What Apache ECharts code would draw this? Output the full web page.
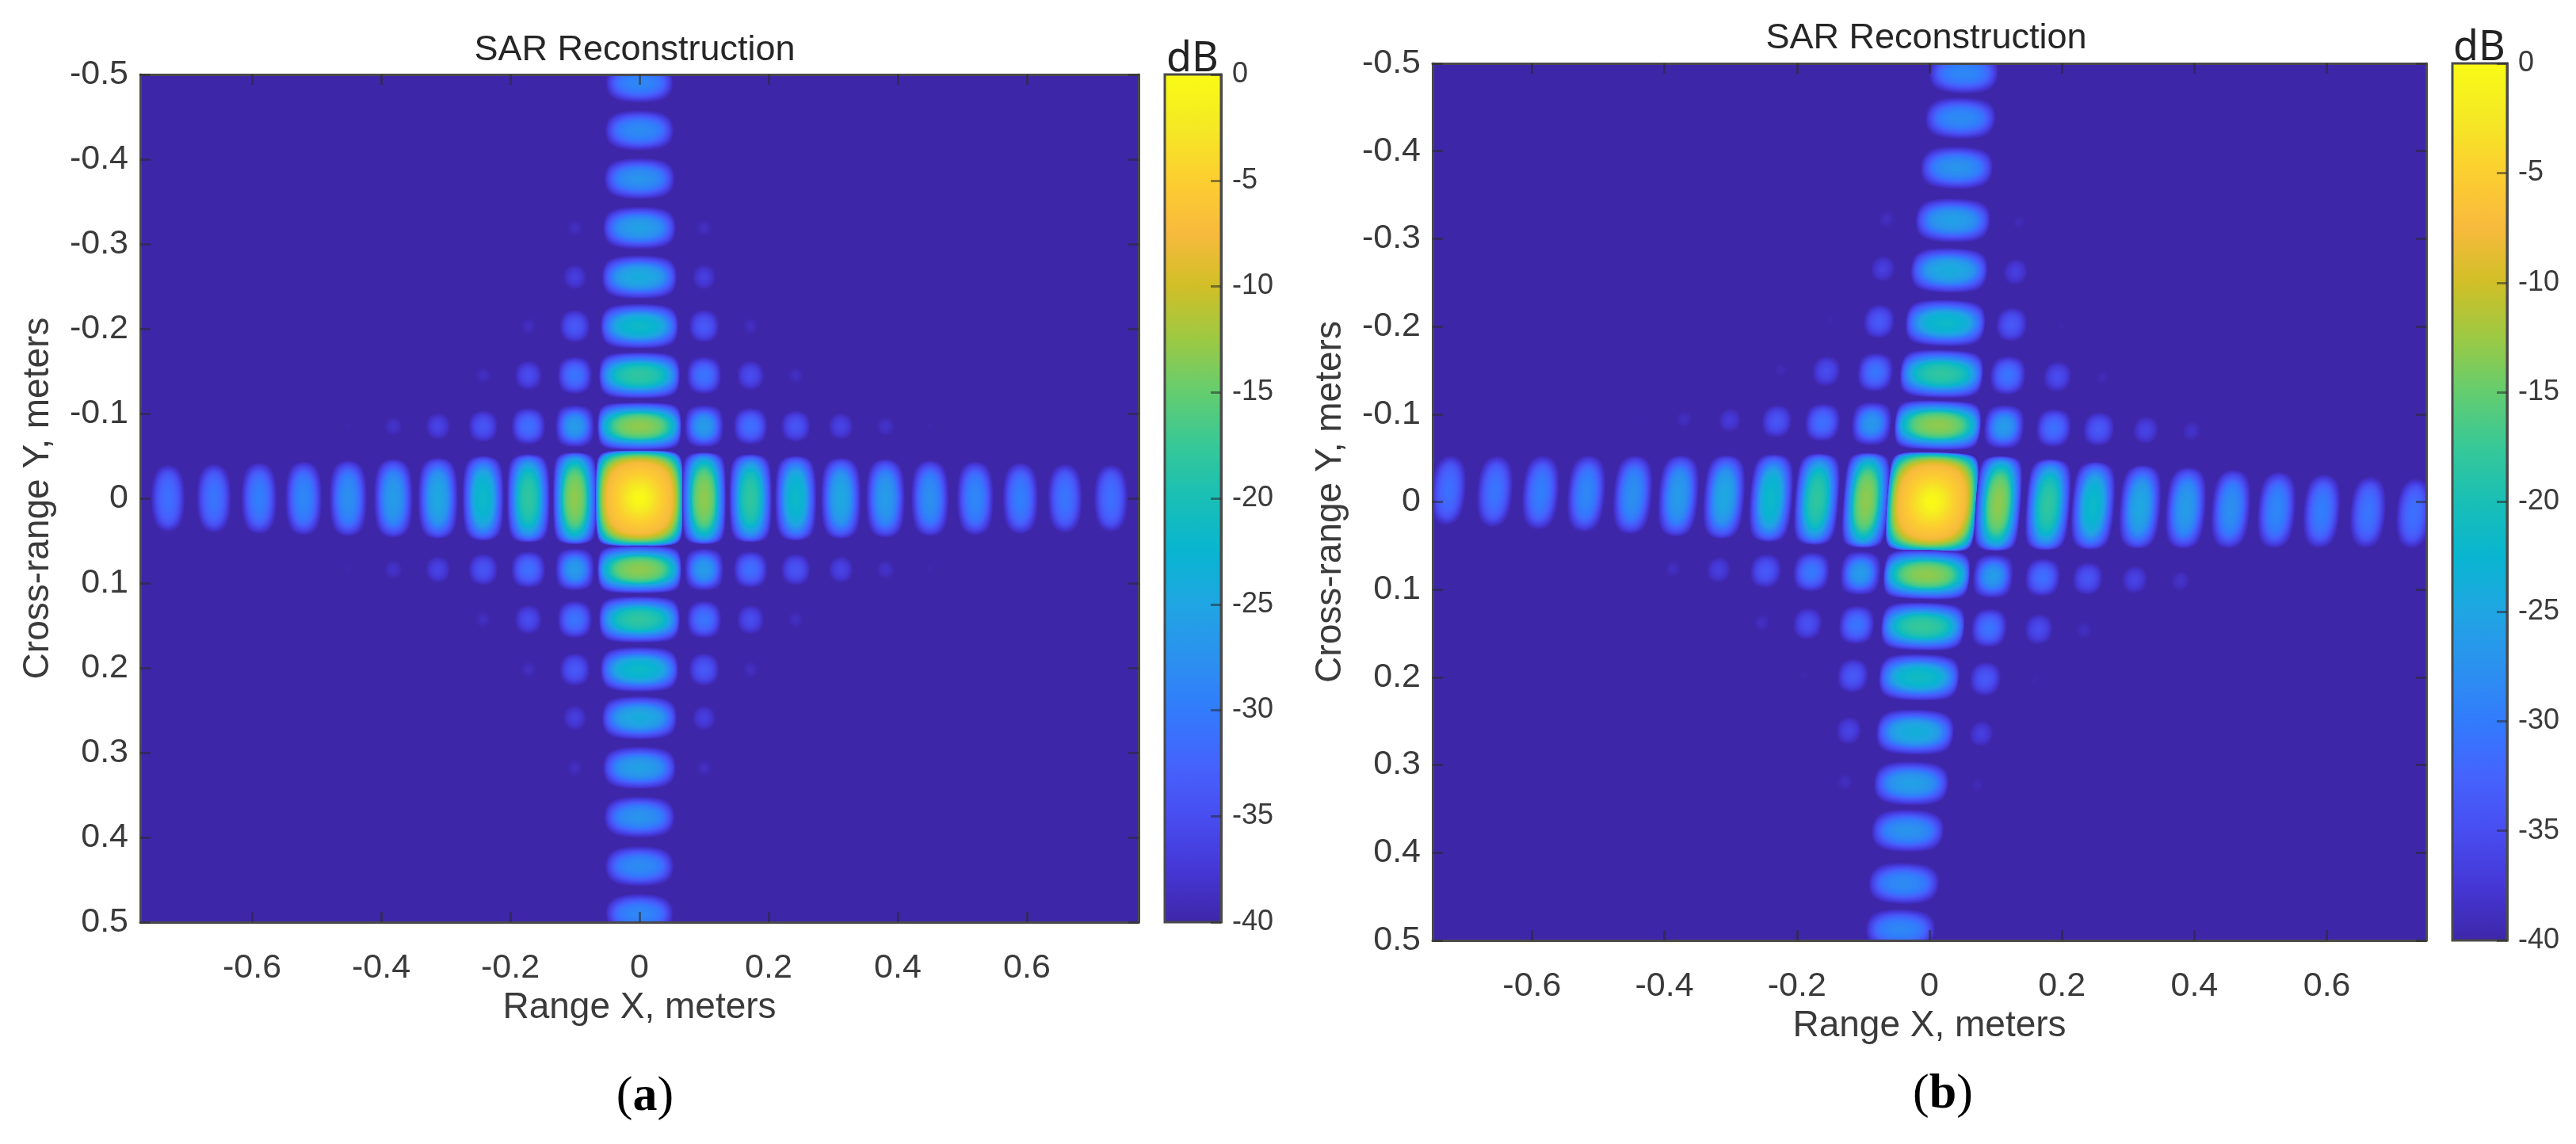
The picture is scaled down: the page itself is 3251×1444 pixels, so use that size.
<!DOCTYPE html>
<html>
<head>
<meta charset="utf-8">
<title>SAR Reconstruction</title>
<script src="https://cdn.jsdelivr.net/npm/echarts@6/dist/echarts.min.js"></script>
<style>
  html, body { margin: 0; padding: 0; background: #fff; }
  #chart { width: 3251px; height: 1444px; }
</style>
</head>
<body>
<div id="chart"></div>
<script>
// tick labels
const xTicks = [-0.6, -0.4, -0.2, 0, 0.2, 0.4, 0.6]
const yTicks = [-0.5, -0.4, -0.3, -0.2, -0.1, 0, 0.1, 0.2, 0.3, 0.4, 0.5]
const barTicks = [0, -5, -10, -15, -20, -25, -30, -35, -40]

// lobe centres, meters
const colXA = [-0.73, -0.659, -0.589, -0.52, -0.451, -0.381, -0.312, -0.242, -0.172, -0.1, 0, 0.1, 0.172, 0.242, 0.312, 0.381, 0.45, 0.52, 0.59, 0.659, 0.73]
const rowYA = [-0.49, -0.434, -0.377, -0.319, -0.261, -0.203, -0.145, -0.085, 0, 0.084, 0.143, 0.202, 0.259, 0.318, 0.376, 0.434, 0.49]
// lobe peaks, dB, one row per rowYA
const peaksA = [
  [-40, -40, -40, -40, -40, -40, -40, -40, -40, -40, -28.5, -40, -40, -40, -40, -40, -40, -40, -40, -40, -40],
  [-40, -40, -40, -40, -40, -40, -40, -40, -40, -40, -28, -40, -40, -40, -40, -40, -40, -40, -40, -40, -40],
  [-40, -40, -40, -40, -40, -40, -40, -40, -40, -40, -27, -40, -40, -40, -40, -40, -40, -40, -40, -40, -40],
  [-40, -40, -40, -40, -40, -40, -40, -40, -40, -38.5, -25.5, -38.5, -40, -40, -40, -40, -40, -40, -40, -40, -40],
  [-40, -40, -40, -40, -40, -40, -40, -40, -40, -36.5, -24, -36.5, -40, -40, -40, -40, -40, -40, -40, -40, -40],
  [-40, -40, -40, -40, -40, -40, -40, -40, -38.5, -33.5, -21.5, -33.5, -38.5, -40, -40, -40, -40, -40, -40, -40, -40],
  [-40, -40, -40, -40, -40, -40, -40, -38.5, -35, -30.5, -18, -30.5, -35, -38.5, -40, -40, -40, -40, -40, -40, -40],
  [-40, -40, -40, -40, -39.5, -38, -36, -34, -31, -26, -13, -26, -31, -34, -36, -38, -39.5, -40, -40, -40, -40],
  [-31, -30.5, -29.5, -28.5, -27.5, -26, -24.5, -21.5, -18, -13, 0, -13, -18, -21.5, -24.5, -26, -27.5, -28.5, -29.5, -30.5, -31],
  [-40, -40, -40, -40, -39.5, -38, -36, -34, -31, -26, -13, -26, -31, -34, -36, -38, -39.5, -40, -40, -40, -40],
  [-40, -40, -40, -40, -40, -40, -40, -38.5, -35, -30.5, -18, -30.5, -35, -38.5, -40, -40, -40, -40, -40, -40, -40],
  [-40, -40, -40, -40, -40, -40, -40, -40, -38.5, -33.5, -21.5, -33.5, -38.5, -40, -40, -40, -40, -40, -40, -40, -40],
  [-40, -40, -40, -40, -40, -40, -40, -40, -40, -36.5, -24, -36.5, -40, -40, -40, -40, -40, -40, -40, -40, -40],
  [-40, -40, -40, -40, -40, -40, -40, -40, -40, -38.5, -25.5, -38.5, -40, -40, -40, -40, -40, -40, -40, -40, -40],
  [-40, -40, -40, -40, -40, -40, -40, -40, -40, -40, -27, -40, -40, -40, -40, -40, -40, -40, -40, -40, -40],
  [-40, -40, -40, -40, -40, -40, -40, -40, -40, -40, -28, -40, -40, -40, -40, -40, -40, -40, -40, -40, -40],
  [-40, -40, -40, -40, -40, -40, -40, -40, -40, -40, -28.5, -40, -40, -40, -40, -40, -40, -40, -40, -40, -40]
]

// lobe centres, meters
const colXB = [-0.726, -0.656, -0.587, -0.518, -0.448, -0.379, -0.31, -0.239, -0.17, -0.096, 0.004, 0.104, 0.179, 0.247, 0.318, 0.387, 0.455, 0.524, 0.592, 0.662, 0.731]
const rowYB = [-0.489, -0.4375, -0.381, -0.321, -0.264, -0.204, -0.146, -0.0875, 0, 0.083, 0.142, 0.2, 0.2625, 0.321, 0.375, 0.435, 0.4875]
const peaksB = [
  [-40, -40, -40, -40, -40, -40, -40, -40, -40, -40, -28.5, -40, -40, -40, -40, -40, -40, -40, -40, -40, -40],
  [-40, -40, -40, -40, -40, -40, -40, -40, -40, -40, -28, -40, -40, -40, -40, -40, -40, -40, -40, -40, -40],
  [-40, -40, -40, -40, -40, -40, -40, -40, -40, -40, -27, -40, -40, -40, -40, -40, -40, -40, -40, -40, -40],
  [-40, -40, -40, -40, -40, -40, -40, -40, -40, -38.5, -25.5, -39, -40, -40, -40, -40, -40, -40, -40, -40, -40],
  [-40, -40, -40, -40, -40, -40, -40, -40, -40, -36.5, -24, -36.5, -40, -40, -40, -40, -40, -40, -40, -40, -40],
  [-40, -40, -40, -40, -40, -40, -40, -40, -39.5, -33.5, -21.5, -33.5, -39.5, -40, -40, -40, -40, -40, -40, -40, -40],
  [-40, -40, -40, -40, -40, -40, -40, -39, -35, -30.5, -18, -30.5, -35, -39, -40, -40, -40, -40, -40, -40, -40],
  [-40, -40, -40, -40, -39.7, -38.5, -37, -34, -31, -26.5, -13, -26, -31, -33.5, -36, -38, -39.7, -40, -40, -40, -40],
  [-31, -30.5, -29.5, -28.5, -27.5, -26, -24.5, -21.5, -18, -13, 0, -13, -18, -21.5, -24.5, -26, -27.5, -28.5, -29.5, -30.5, -31],
  [-40, -40, -40, -40, -39.7, -38.5, -36.5, -33.5, -30, -26, -13, -26, -31, -34, -36, -38, -40, -40, -40, -40, -40],
  [-40, -40, -40, -40, -40, -40, -40, -38.5, -34.5, -30.5, -17.5, -30.5, -35, -38.5, -40, -40, -40, -40, -40, -40, -40],
  [-40, -40, -40, -40, -40, -40, -40, -40, -39.5, -33.5, -21, -33.5, -39.5, -40, -40, -40, -40, -40, -40, -40, -40],
  [-40, -40, -40, -40, -40, -40, -40, -40, -40, -36, -23.5, -36.5, -40, -40, -40, -40, -40, -40, -40, -40, -40],
  [-40, -40, -40, -40, -40, -40, -40, -40, -40, -38.5, -25.5, -39, -40, -40, -40, -40, -40, -40, -40, -40, -40],
  [-40, -40, -40, -40, -40, -40, -40, -40, -40, -40, -27, -40, -40, -40, -40, -40, -40, -40, -40, -40, -40],
  [-40, -40, -40, -40, -40, -40, -40, -40, -40, -40, -28, -40, -40, -40, -40, -40, -40, -40, -40, -40, -40],
  [-40, -40, -40, -40, -40, -40, -40, -40, -40, -40, -28.5, -40, -40, -40, -40, -40, -40, -40, -40, -40, -40]
]

// parula, low to high
const parula = ['#3e26a8', '#4537d5', '#484df0', '#4563fd', '#327bfc', '#2b91ef', '#20a5e3', '#08b5d0', '#19bfb6', '#37c897', '#64cd6f', '#9dc943', '#d1bf27', '#f8ba3d', '#fccf30', '#f5e924', '#f9fb15']
const FLOOR = -40
const LEVEL_STEP = 0.5

// how far round one quadrant of a lobe the outline points sit
const splits = [0, 0.004, 0.015, 0.04, 0.08, 0.15, 0.25, 0.37, 0.5, 0.63, 0.75, 0.85, 0.92, 0.96, 0.985, 0.996, 1]

function dbColor(db) {
  return echarts.color.lerp((db - FLOOR) / -FLOOR, parula)
}

// outer contours of a lobe sit close to its nulls, the top stays rounded
function sideSharp(level, d) {
  const s = Math.min(2.2, 1 + 0.08 * (level - FLOOR))
  return d < 9 ? 1 + (s - 1) * d / 9 : s
}
// along the wide dimension: the centre lobe has a narrow tip, the others a long core
function mainSharp(level, d, isCentre) {
  const s = 1.3 - 0.01 * (level - FLOOR)
  if (isCentre) return d < 7 ? s + (7 - d) * 0.35 : s
  return d < 6 ? s * (0.55 + 0.075 * d) : s
}

// one rounded outline of a lobe, d dB below its peak, in fractions of the null width
function lobeOutline(d, sharpU, sharpV) {
  const k = Math.pow(10, -d / 20)
  const quad = splits.map(a => [
    Math.acos(Math.pow(k, a / sharpU)) / Math.PI,
    Math.acos(Math.pow(k, (1 - a) / sharpV)) / Math.PI
  ])
  return quad
    .concat(quad.slice().reverse().map(p => [p[0], -p[1]]))
    .concat(quad.map(p => [-p[0], -p[1]]))
    .concat(quad.slice().reverse().map(p => [-p[0], p[1]]))
}

function renderLobe(shearX, shearY) {
  return function (params, api) {
    const cx = api.value(0), cy = api.value(1), peak = api.value(2)
    const w = api.value(3), h = api.value(4)
    const isCentre = w > 0.1 && h > 0.1
    const children = []
    for (let level = FLOOR + 0.25; level < peak; level += LEVEL_STEP) {
      const d = peak - level
      const sharpU = w > 0.1 ? mainSharp(level, d, isCentre) : sideSharp(level, d)
      const sharpV = h > 0.1 ? mainSharp(level, d, isCentre) : sideSharp(level, d)
      const points = lobeOutline(d, sharpU, sharpV).map(p => {
        const du = p[0] * w, dv = p[1] * h
        return api.coord([
          cx + shearX * cy + du + shearX * dv,
          cy + shearY * cx + dv + shearY * du
        ])
      })
      children.push({ type: 'polygon', shape: { points }, style: { fill: dbColor(level) }, silent: true })
    }
    return { type: 'group', children }
  }
}

const FONT = '"Liberation Sans", Arial, sans-serif'
const LABEL = '#3a3a3a'
const FRAME = '#4a4a4a'

const grids = [], xAxes = [], yAxes = [], series = [], titles = []

function boxAxis(common, position, labelled, ticks, name, nameGap, nameRotate) {
  return Object.assign({}, common, {
    type: 'value',
    position,
    z: 5,
    name: labelled ? name : '',
    nameLocation: 'middle',
    nameGap,
    nameRotate,
    nameTextStyle: { fontFamily: FONT, fontSize: 46, color: LABEL },
    axisLine: { show: true, onZero: false, lineStyle: { color: FRAME, width: 3 } },
    axisTick: { show: true, inside: true, length: 13, customValues: ticks, lineStyle: { color: '#2a2a2a', width: 3, opacity: 0.55 } },
    axisLabel: { show: labelled, customValues: ticks, fontFamily: FONT, fontSize: 43, color: LABEL, margin: common.labelMargin, formatter: v => String(v), hideOverlap: false },
    splitLine: { show: false }
  })
}

function addPanel(p) {
  const gi = grids.length
  grids.push({ left: p.left, top: p.top, width: p.width, height: p.height, show: true, backgroundColor: parula[0], borderWidth: 0 })
  const xi = xAxes.length, yi = yAxes.length
  const xc = { gridIndex: gi, min: -p.xMax, max: p.xMax, labelMargin: 37 }
  const yc = { gridIndex: gi, min: -0.5, max: 0.5, inverse: true, labelMargin: 15 }
  xAxes.push(boxAxis(xc, 'bottom', true, xTicks, 'Range X, meters', 84))
  xAxes.push(boxAxis(xc, 'top', false, xTicks))
  yAxes.push(boxAxis(yc, 'left', true, yTicks, 'Cross-range Y, meters', 106, 90))
  yAxes.push(boxAxis(yc, 'right', false, yTicks))

  const data = []
  p.rowY.forEach((y, r) => p.colX.forEach((x, c) => {
    const peak = p.peaks[r][c]
    if (peak > FLOOR) data.push([x, y, peak, c === 10 ? 0.138 : 0.07, r === 8 ? 0.115 : 0.058])
  }))
  series.push({
    type: 'custom',
    xAxisIndex: xi,
    yAxisIndex: yi,
    clip: true,
    silent: true,
    animation: false,
    progressive: 0,
    renderItem: renderLobe(p.shearX, p.shearY),
    encode: { x: 0, y: 1 },
    data
  })

  // colour bar
  const bi = grids.length
  grids.push({ left: p.barLeft, top: p.top, width: p.barWidth, height: p.height, show: false })
  const bx = xAxes.length, by = yAxes.length
  xAxes.push({ type: 'value', gridIndex: bi, min: 0, max: 1, show: false })
  yAxes.push({
    type: 'value', gridIndex: bi, min: -40, max: 0, interval: 5, position: 'right', z: 5,
    axisLine: { show: true, onZero: false, lineStyle: { color: FRAME, width: 3 } },
    axisTick: { show: true, inside: true, length: 13, lineStyle: { color: '#2a2a2a', width: 3, opacity: 0.55 } },
    axisLabel: { fontFamily: FONT, fontSize: 36, color: LABEL, margin: 14, hideOverlap: false },
    splitLine: { show: false }
  })
  series.push({
    type: 'custom',
    xAxisIndex: bx,
    yAxisIndex: by,
    silent: true,
    animation: false,
    renderItem: (params, api) => {
      const lo = api.coord([0, api.value(0)]), hi = api.coord([1, api.value(1)])
      return {
        type: 'rect',
        shape: { x: lo[0], y: hi[1], width: hi[0] - lo[0], height: lo[1] - hi[1] },
        style: {
          stroke: FRAME,
          lineWidth: 3,
          fill: new echarts.graphic.LinearGradient(0, 1, 0, 0, parula.map((color, i) => ({ offset: i / (parula.length - 1), color })))
        }
      }
    },
    data: [[barTicks[barTicks.length - 1], barTicks[0]]]
  })

  titles.push({ text: 'SAR Reconstruction', left: p.titleX, top: p.titleY, textAlign: 'center', textVerticalAlign: 'middle', textStyle: { fontFamily: FONT, fontSize: 45, fontWeight: 'normal', color: '#262626' } })
  titles.push({ text: 'dB', left: p.dbX, top: p.dbY, textAlign: 'center', textVerticalAlign: 'middle', textStyle: { fontFamily: '"Noto Sans", sans-serif', fontSize: 52, fontWeight: 'normal', color: '#222' } })
  titles.push({
    text: '(' + '{b|' + p.tag + '})',
    left: p.tagX,
    top: p.tagY,
    textAlign: 'center',
    textVerticalAlign: 'middle',
    textStyle: { fontFamily: '"Liberation Serif", serif', fontSize: 62, fontWeight: 'normal', color: '#000', rich: { b: { fontFamily: '"Liberation Serif", serif', fontSize: 62, fontWeight: 'bold', color: '#000' } } }
  })
}

addPanel({
  left: 177, top: 94, width: 1260, height: 1070, xMax: 0.773,
  colX: colXA, rowY: rowYA, peaks: peaksA, shearX: 0, shearY: 0,
  barLeft: 1470, barWidth: 71,
  titleX: 796, titleY: 59, dbX: 1500, dbY: 70, tag: 'a', tagX: 809, tagY: 1380
})
addPanel({
  left: 1808, top: 80, width: 1254, height: 1107, xMax: 0.75,
  colX: colXB, rowY: rowYB, peaks: peaksB, shearX: -0.098, shearY: 0.018,
  barLeft: 3095, barWidth: 69,
  titleX: 2426, titleY: 44, dbX: 3124, dbY: 56, tag: 'b', tagX: 2447, tagY: 1377
})

const chart = echarts.init(document.getElementById('chart'), null, { renderer: 'canvas' })
chart.setOption({
  animation: false,
  backgroundColor: '#fff',
  title: titles,
  grid: grids,
  xAxis: xAxes,
  yAxis: yAxes,
  series
})
</script>
</body>
</html>
